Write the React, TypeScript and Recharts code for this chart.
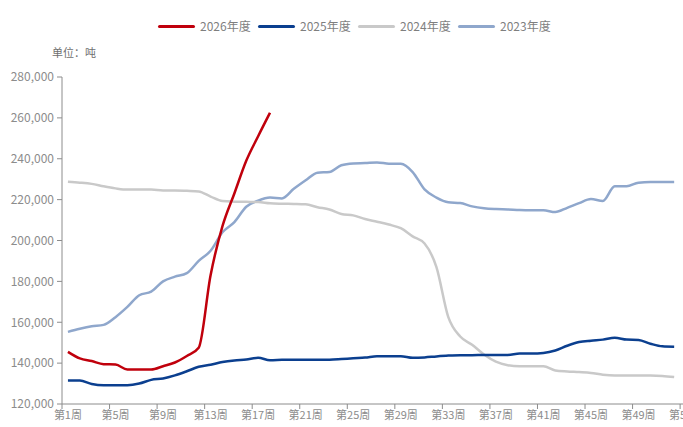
import React from "react";
import { LineChart, Line, XAxis, YAxis } from "recharts";

const weeks = [1,2,3,4,5,6,7,8,9,10,11,12,13,14,15,16,17,18,19,20,21,22,23,24,25,26,27,28,29,30,31,32,33,34,35,36,37,38,39,40,41,42,43,44,45,46,47,48,49,50,51,52];

const s2026 = [145500,142300,141000,139500,139300,136900,136900,136900,138500,140300,143500,147500,183000,207000,223000,239000,251000,262500];

const s2025 = [131500,131500,129800,129200,129200,129200,130000,131800,132500,134000,136000,138200,139200,140500,141300,141800,142600,141400,141600,141700,141700,141700,141700,142000,142400,142700,143400,143400,143400,142600,142800,143300,143700,143900,143900,144000,144000,144000,144700,144700,145000,146200,148500,150300,151000,151500,152400,151500,151300,149500,148200,148000];

const s2024 = [228700,228300,227700,226500,225500,224900,224900,224900,224500,224500,224300,224000,221500,219300,219000,218900,218800,218200,218000,217900,217700,216300,215200,213000,212300,210500,209200,207800,206000,202000,198500,187000,162500,153000,149000,144200,140700,139000,138500,138500,138500,136400,135900,135600,135200,134300,133900,133900,133900,133900,133700,133200];

const s2023 = [155300,156800,158000,158700,162500,167500,173200,175000,180000,182300,184000,190000,195000,204000,209000,216500,219500,221000,220600,225300,229500,233200,233500,236800,237700,237900,238200,237600,237500,233500,225000,221000,218700,218300,216700,215800,215400,215200,214900,214800,214800,213900,216000,218300,220300,219300,226500,226500,228300,228600,228600,228600];

const seriesNames = ["2026年度", "2025年度", "2024年度", "2023年度"];
const seriesKeys = ["y2026", "y2025", "y2024", "y2023"];
const seriesColors = ["#c0000c", "#0b3f8f", "#c9c9c9", "#8fa7cc"];

const xTickLabels = ["第1周","第5周","第9周","第13周","第17周","第21周","第25周","第29周","第33周","第37周","第41周","第45周","第49周","第53周"];
const xTickBounds = [0.5,4.5,8.5,12.5,16.5,20.5,24.5,28.5,32.5,36.5,40.5,44.5,48.5,52.5];
const xDomain = [0.5, 53.5];
const yTicks = [120000,140000,160000,180000,200000,220000,240000,260000,280000];

const unitLabel = "单位：吨";

const FONT = '"Noto Sans CJK SC", "Noto Sans", sans-serif';
const CHART_W = 700;
const CHART_H = 427;
const MARGIN = { top: 77, right: 8, bottom: 0, left: 0 };
const YAXIS_W = 62;
const PLOT_W = CHART_W - MARGIN.left - MARGIN.right - YAXIS_W;
const BAND = PLOT_W / (xDomain[1] - xDomain[0]);

const data = weeks.map((w, i) => ({
  week: w,
  y2026: i < s2026.length ? s2026[i] : null,
  y2025: s2025[i],
  y2024: s2024[i],
  y2023: s2023[i],
}));

const XTick = (props: any) => {
  const { x, y, index } = props;
  return (
    <text
      x={x + BAND / 2}
      y={y}
      dy="0.75em"
      textAnchor="middle"
      fill="#8c8c8c"
      fontSize={11}
      fontFamily={FONT}
    >
      {xTickLabels[index]}
    </text>
  );
};

const fmt = (v: number) => v.toLocaleString("en-US");

export default function App() {
  return (
    <div
      style={{
        position: "absolute",
        left: 0,
        top: 0,
        width: 683,
        height: 427,
        overflow: "hidden",
        background: "#fff",
        fontFamily: FONT,
      }}
    >
      <div
        style={{
          position: "absolute",
          left: 158,
          top: 17,
          display: "flex",
          alignItems: "center",
          height: 18,
        }}
      >
        {seriesNames.map((n, i) => (
          <div key={n} style={{ display: "flex", alignItems: "center", width: 100 }}>
            <div
              style={{
                width: 37,
                height: 3,
                borderRadius: 2,
                background: seriesColors[i],
                marginRight: 5,
              }}
            />
            <span style={{ fontSize: 12, color: "#7f7f7f", lineHeight: "18px" }}>{n}</span>
          </div>
        ))}
      </div>
      <div
        style={{
          position: "absolute",
          left: 52,
          top: 44,
          fontSize: 11,
          color: "#6f6f6f",
          lineHeight: "16px",
        }}
      >
        {unitLabel}
      </div>
      <div style={{ position: "absolute", left: 0, top: 0 }}>
        <LineChart width={CHART_W} height={CHART_H} data={data} margin={MARGIN}>
          <XAxis
            dataKey="week"
            type="number"
            domain={xDomain}
            ticks={xTickBounds}
            interval={0}
            allowDataOverflow
            height={23}
            tickSize={5}
            tickMargin={2}
            stroke="#8c8c8c"
            tick={<XTick />}
          />
          <YAxis
            type="number"
            domain={[120000, 280000]}
            ticks={yTicks}
            interval={0}
            width={YAXIS_W}
            tickSize={5}
            tickMargin={3}
            stroke="#8c8c8c"
            tickFormatter={fmt}
            tick={{ fill: "#8c8c8c", fontSize: 12, fontFamily: FONT }}
          />
          {seriesKeys.map((k, i) => (
            <Line
              key={k}
              dataKey={k}
              type="monotone"
              stroke={seriesColors[i]}
              strokeWidth={2.5}
              dot={false}
              activeDot={false}
              connectNulls={false}
              isAnimationActive={false}
            />
          )).reverse()}
        </LineChart>
      </div>
    </div>
  );
}
